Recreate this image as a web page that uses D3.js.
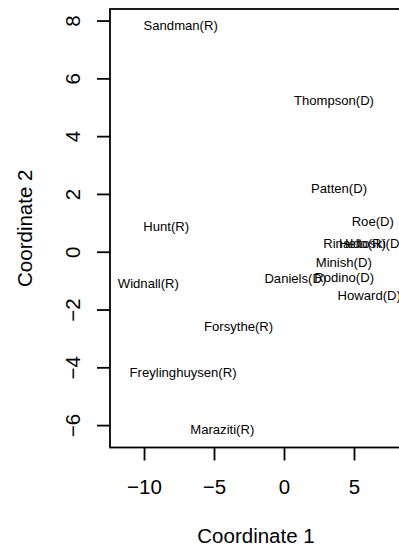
<!DOCTYPE html>
<html><head><meta charset="utf-8">
<script src="https://cdn.jsdelivr.net/npm/d3@7"></script>
<style>body{margin:0;background:#fff}svg{display:block}text{font-family:"Liberation Sans",Arial,sans-serif}</style>
</head><body><svg id="c" width="399" height="547"></svg>
<script>
const names = ["Hunt(R)","Sandman(R)","Howard(D)","Thompson(D)","Freylinghuysen(R)","Forsythe(R)","Widnall(R)","Roe(D)","Heltoski(D)","Rodino(D)","Minish(D)","Rinaldo(R)","Maraziti(R)","Daniels(D)","Patten(D)"];
const coord1 = [-8.41,-7.38,6.09,3.57,-7.21,-3.24,-9.69,6.34,6.24,4.30,4.27,5.04,-4.41,0.81,3.93];
const coord2 = [0.89,7.84,-1.50,5.25,-4.17,-2.60,-1.09,1.04,0.29,-0.90,-0.37,0.29,-6.16,-0.94,2.20];
const xTicks = [-10,-5,0,5];
const yTicks = [-6,-4,-2,0,2,4,6,8];
const xTitle = "Coordinate 1", yTitle = "Coordinate 2";

const svg = d3.select("#c");
const L=110, R=402, T=9, B=447.5;
const AX = 20.5, LB = 13.1;
const x = d3.scaleLinear().domain([-12.43, 8.43]).range([L, R]);
const y = d3.scaleLinear().domain([-6.775, 8.40]).range([B, T]);

svg.append("rect").attr("x",L).attr("y",T).attr("width",R-L).attr("height",B-T)
  .attr("fill","none").attr("stroke","#000").attr("stroke-width",1.8);

const gx = svg.append("g").attr("transform",`translate(0,${B})`)
  .call(d3.axisBottom(x).tickValues(xTicks).tickSize(13).tickPadding(19).tickFormat(d3.format("d")));
gx.select(".domain").remove();
gx.selectAll("line").attr("stroke","#000").attr("stroke-width",1.8);
gx.selectAll("text").attr("font-size",AX).attr("fill","#000").attr("font-family","Liberation Sans, Arial, sans-serif");

const gy = svg.append("g").attr("transform",`translate(${L},0)`)
  .call(d3.axisLeft(y).tickValues(yTicks).tickSize(13).tickFormat(d3.format("d")));
gy.select(".domain").remove();
gy.selectAll("line").attr("stroke","#000").attr("stroke-width",1.8);
gy.selectAll("text").attr("x",null).attr("dy",null).attr("text-anchor","middle")
  .attr("transform","translate(-30,0) rotate(-90)")
  .attr("font-size",AX).attr("fill","#000").attr("font-family","Liberation Sans, Arial, sans-serif");

svg.append("text").attr("x",(L+R)/2).attr("y",543).attr("text-anchor","middle")
  .attr("font-size",AX).text(xTitle);
svg.append("text").attr("transform",`translate(32,${(T+B)/2}) rotate(-90)`).attr("text-anchor","middle")
  .attr("font-size",AX).text(yTitle);

svg.append("g").selectAll("text").data(names).join("text")
  .attr("x",(d,i)=>x(coord1[i])).attr("y",(d,i)=>y(coord2[i])).attr("dy","0.35em")
  .attr("text-anchor","middle").attr("font-size",LB).attr("fill","#000").text(d=>d);
</script></body></html>
